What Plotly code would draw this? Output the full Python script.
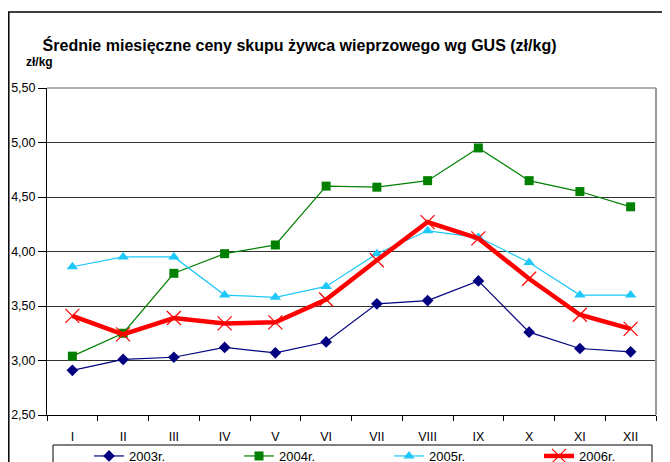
import plotly.graph_objects as go

months = ["I", "II", "III", "IV", "V", "VI", "VII", "VIII", "IX", "X", "XI", "XII"]
y2003 = [2.91, 3.01, 3.03, 3.12, 3.07, 3.17, 3.52, 3.55, 3.73, 3.26, 3.11, 3.08]
y2004 = [3.04, 3.25, 3.80, 3.98, 4.06, 4.60, 4.59, 4.65, 4.95, 4.65, 4.55, 4.41]
y2005 = [3.86, 3.95, 3.95, 3.60, 3.58, 3.68, 3.98, 4.19, 4.13, 3.90, 3.60, 3.60]
y2006 = [3.41, 3.24, 3.39, 3.34, 3.35, 3.56, 3.92, 4.27, 4.12, 3.75, 3.42, 3.29]
names = ["2003r.", "2004r.", "2005r.", "2006r."]

fig = go.Figure()
fig.add_trace(go.Scatter(x=months, y=y2003, name=names[0], mode="lines+markers",
                         line=dict(color="#000080", width=1.2),
                         marker=dict(symbol="diamond", size=9, color="#000080")))
fig.add_trace(go.Scatter(x=months, y=y2004, name=names[1], mode="lines+markers",
                         line=dict(color="#008000", width=1.2),
                         marker=dict(symbol="square", size=9, color="#008000")))
fig.add_trace(go.Scatter(x=months, y=y2005, name=names[2], mode="lines+markers",
                         line=dict(color="#1EC8F8", width=1.2),
                         marker=dict(symbol="triangle-up", size=10, color="#1EC8F8")))
fig.add_trace(go.Scatter(x=months, y=y2006, name=names[3], mode="lines+markers",
                         line=dict(color="#FF0000", width=4.5),
                         marker=dict(symbol="x-thin-open", size=14,
                                     line=dict(color="#FF0000", width=1.2))))

# page body adds an 8px offset; work in window pixel coordinates
OFF = 8
W, H = 670, 462
L = 47 - OFF
T = 88 - OFF
R = W - (656 - OFF)
B = H - (415 - OFF)
pw, ph = W - L - R, H - T - B

def px(x):
    return (x - OFF - L) / pw

def py(y):
    return (H - B - (y - OFF)) / ph

fig.update_layout(
    width=W, height=H,
    margin=dict(l=L, r=R, t=T, b=B, autoexpand=False),
    paper_bgcolor="white", plot_bgcolor="white",
    separators=", ",
    font=dict(family="Liberation Sans, Arial, sans-serif", size=12, color="black"),
    title=dict(text="<b>Średnie miesięczne ceny skupu żywca wieprzowego wg GUS (zł/kg)</b>",
               x=px(312), xanchor="center", y=1 - (45 - OFF) / H, yanchor="middle",
               font=dict(size=16, color="black")),
    showlegend=True,
    legend=dict(orientation="h", x=px(89), xanchor="left", y=py(441), yanchor="top",
                entrywidth=105, entrywidthmode="pixels",
                borderwidth=0, bgcolor="rgba(0,0,0,0)",
                font=dict(size=13), itemwidth=30, tracegroupgap=0),
    xaxis=dict(type="category", range=[-0.5, 11.5], showgrid=False,
               showline=True, linecolor="black", linewidth=1,
               ticks="outside", tickson="boundaries", ticklen=5, tickcolor="black",
               ticklabelstandoff=10,
               tickfont=dict(size=12.5), fixedrange=True),
    yaxis=dict(range=[2.5, 5.5], dtick=0.5, tickformat=".2f",
               showgrid=True, gridcolor="#333333", gridwidth=1,
               showline=True, linecolor="black", linewidth=1,
               ticks="outside", ticklen=8, tickcolor="black",
               tickfont=dict(size=12.5), zeroline=False, fixedrange=True),
    annotations=[dict(text="<b>zł/kg</b>", x=px(39), y=py(62), xref="paper", yref="paper",
                      xanchor="center", yanchor="middle", showarrow=False,
                      font=dict(size=12, color="black"))],
    shapes=[
        dict(type="line", xref="paper", yref="paper", x0=0, x1=1, y0=1, y1=1,
             line=dict(color="#999999", width=1.5)),
        dict(type="line", xref="paper", yref="paper", x0=1, x1=1, y0=0, y1=1,
             line=dict(color="#999999", width=2)),
        dict(type="rect", xref="paper", yref="paper", x0=px(8.8), x1=px(680), y0=py(480), y1=py(12),
             line=dict(color="black", width=1.5), layer="below"),
        dict(type="rect", xref="paper", yref="paper", x0=px(53), x1=px(652), y0=py(480), y1=py(445),
             line=dict(color="black", width=1), layer="below"),
    ],
)

fig.write_html("out.html")
